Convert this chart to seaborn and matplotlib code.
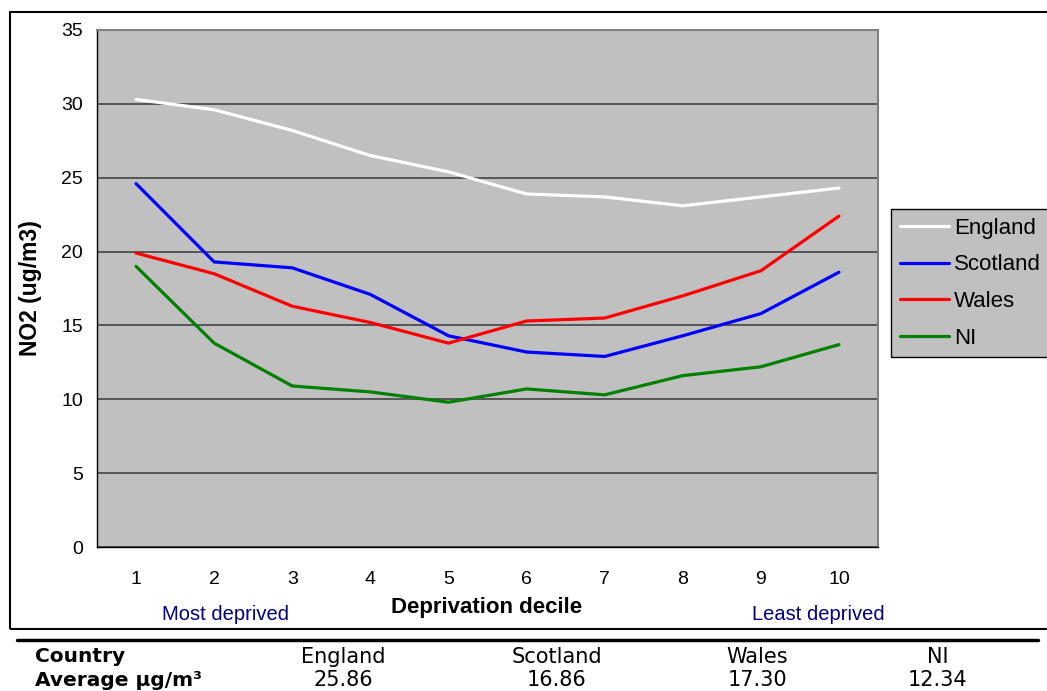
import numpy as np
import pandas as pd
import seaborn as sns
import matplotlib
matplotlib.use('Agg')
from matplotlib import pyplot as plt
from matplotlib.lines import Line2D
from matplotlib.patches import Rectangle

# dados
deciles = [1, 2, 3, 4, 5, 6, 7, 8, 9, 10]
england = [30.3, 29.6, 28.2, 26.5, 25.4, 23.9, 23.7, 23.1, 23.7, 24.3]
scotland = [24.6, 19.3, 18.9, 17.1, 14.3, 13.2, 12.9, 14.3, 15.8, 18.6]
wales = [19.9, 18.5, 16.3, 15.2, 13.8, 15.3, 15.5, 17.0, 18.7, 22.4]
ni = [19.0, 13.8, 10.9, 10.5, 9.8, 10.7, 10.3, 11.6, 12.2, 13.7]

countries = ['England', 'Scotland', 'Wales', 'NI']
averages = ['25.86', '16.86', '17.30', '12.34']
colors = {'England': '#FFFFFF', 'Scotland': '#0000FF', 'Wales': '#FF0000', 'NI': '#008000'}

df = pd.DataFrame({
    'decile': deciles * 4,
    'no2': england + scotland + wales + ni,
    'country': [c for c in countries for _ in deciles],
})

sns.set_style('white')
plt.rcParams['font.family'] = ['Liberation Sans', 'DejaVu Sans']
plt.rcParams['text.color'] = 'black'
plt.rcParams['xtick.color'] = 'black'
plt.rcParams['ytick.color'] = 'black'
plt.rcParams['xtick.labelcolor'] = 'black'
plt.rcParams['ytick.labelcolor'] = 'black'

fig = plt.figure(figsize=(10.47, 6.91), dpi=100)
ax = fig.add_axes([97 / 1047, 144 / 691, 781 / 1047, 517 / 691])
ax.set_facecolor('#C0C0C0')

sns.lineplot(data=df, x='decile', y='no2', hue='country', palette=colors,
             linewidth=2.3, legend=False, ax=ax, sort=False)

ax.set_xlim(0.5, 10.5)
ax.set_ylim(0, 35)
ax.set_yticks(np.arange(0, 36, 5))
ax.set_xticks(deciles)
ax.set_xticks(np.arange(0.5, 11, 1), minor=True)
ax.tick_params(axis='x', which='major', length=0, pad=17, labelsize=14)
ax.tick_params(axis='x', which='minor', length=5, width=1, color='black', direction='out')
ax.tick_params(axis='y', length=5, width=1, color='black', direction='out', pad=5, labelsize=14)
ax.grid(axis='y', color='#4d4d4d', linewidth=1.3)
ax.set_axisbelow(True)
ax.set_xlabel('')
ax.set_ylabel('')
for s in ['top', 'right']:
    ax.spines[s].set_color('#808080')
    ax.spines[s].set_linewidth(1.5)
for s in ['left', 'bottom']:
    ax.spines[s].set_color('black')
    ax.spines[s].set_linewidth(1)

# textos dos eixos
fig.text(31 / 1047, 403 / 691, 'NO2 (ug/m3)', rotation=90, ha='center', va='center',
         fontsize=16.5, fontweight='bold')
fig.text(487 / 1047, 84 / 691, 'Deprivation decile', ha='center', va='center',
         fontsize=16, fontweight='bold')
fig.text(226 / 1047, 76 / 691, 'Most deprived', ha='center', va='center',
         fontsize=14.5, color='#000080')
fig.text(818 / 1047, 76 / 691, 'Least deprived', ha='center', va='center',
         fontsize=14.5, color='#000080')

# legenda
handles = [Line2D([], [], color=colors[c], linewidth=2.3) for c in countries]
leg = fig.legend(handles, countries, loc='upper left',
                 bbox_to_anchor=(891 / 1047, (691 - 209) / 691),
                 fontsize=16, frameon=True, fancybox=False, facecolor='#C0C0C0',
                 edgecolor='black', framealpha=1, handlelength=2.2,
                 handletextpad=0.22, labelspacing=0.7, borderpad=0.4,
                 borderaxespad=0)
leg.get_frame().set_linewidth(1)

# moldura do grafico
fig.patches.append(Rectangle((10 / 1047, 62 / 691), 1.1, 617 / 691, transform=fig.transFigure,
                             fill=False, edgecolor='black', linewidth=1.5, clip_on=False))

# tabela de medias
fig.add_artist(Line2D([17 / 1047, 1038 / 1047], [51 / 691, 51 / 691],
                      transform=fig.transFigure, color='black', linewidth=2.5))
fig.text(35 / 1047, 34 / 691, 'Country', ha='left', va='center', fontsize=14.5,
         fontweight='bold', family='DejaVu Sans')
fig.text(35 / 1047, 11 / 691, 'Average µg/m³', ha='left', va='center', fontsize=14.5,
         fontweight='bold', family='DejaVu Sans')
col_x = [343, 557, 757, 938]
for x, c, a in zip(col_x, countries, averages):
    fig.text(x / 1047, 34 / 691, c, ha='center', va='center', fontsize=15, family='DejaVu Sans')
    fig.text(x / 1047, 11 / 691, a, ha='center', va='center', fontsize=15, family='DejaVu Sans')

fig.savefig('out.png', dpi=100)
